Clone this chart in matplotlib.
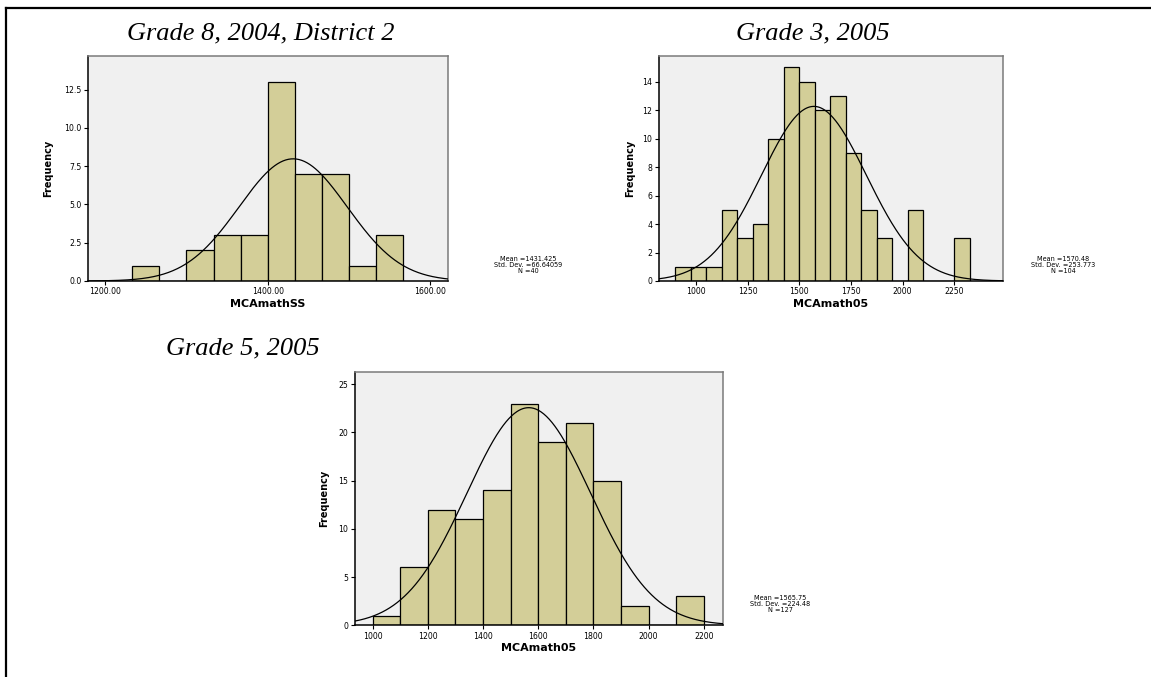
import matplotlib
matplotlib.use("Agg")
import matplotlib.pyplot as plt
from matplotlib.lines import Line2D
import numpy as np

W, H = 1151, 677

# --- data ---
titles = ["Grade 8, 2004, District 2", "Grade 3, 2005", "Grade 5, 2005"]
xlabels = ["MCAmathSS", "MCAmath05", "MCAmath05"]

g8_start, g8_width = 1200 + 100 / 3, 100 / 3
g8_counts = [1, 0, 2, 3, 3, 13, 7, 7, 1, 3]
g8_stats = (1431.425, 66.64059, 40, "1431.425", "66.64059")

g3_start, g3_width = 900, 75
g3_counts = [1, 1, 1, 5, 3, 4, 10, 15, 14, 12, 13, 9, 5, 3, 0, 5, 0, 0, 3]
g3_stats = (1570.48, 253.773, 104, "1570.48", "253.773")

g5_start, g5_width = 1000, 100
g5_counts = [1, 6, 12, 11, 14, 23, 19, 21, 15, 2, 0, 3]
g5_stats = (1565.75, 224.48, 127, "1565.75", "224.48")

g8_xticks = [1200, 1400, 1600]
g8_yticks = [0, 2.5, 5, 7.5, 10, 12.5]
g3_xticks = [1000, 1250, 1500, 1750, 2000, 2250]
g3_yticks = [0, 2, 4, 6, 8, 10, 12, 14]
g5_xticks = [1000, 1200, 1400, 1600, 1800, 2000, 2200]
g5_yticks = [0, 5, 10, 15, 20, 25]

BAR = "#d3ce98"
BG = "#f0f0f0"
NARROW = ["Liberation Sans Narrow", "DejaVu Sans Condensed", "DejaVu Sans"]

fig = plt.figure(figsize=(W / 100, H / 100), dpi=100)
fig.patch.set_facecolor("white")


def px_box(l, r, t, b):
    return [l / W, 1 - b / H, (r - l) / W, (b - t) / H]


def histo(box, start, width, counts, stats, xlim, ylim, xt, yt, xfmt, yfmt,
          title, title_xy, xlabel, freq_x, stats_xy):
    ax = fig.add_axes(px_box(*box))
    ax.set_facecolor(BG)
    lefts = start + width * np.arange(len(counts))
    ax.bar(lefts, counts, width=width, align="edge", color=BAR,
           edgecolor="black", linewidth=0.9, zorder=2)
    mean, sd, n, ms, ss = stats
    xs = np.linspace(xlim[0], xlim[1], 400)
    ys = n * width / (sd * np.sqrt(2 * np.pi)) * np.exp(-0.5 * ((xs - mean) / sd) ** 2)
    ax.plot(xs, ys, color="black", lw=0.9, zorder=3)
    ax.set_xlim(*xlim)
    ax.set_ylim(*ylim)
    ax.set_xticks(xt)
    ax.set_xticklabels([xfmt % v for v in xt])
    ax.set_yticks(yt)
    ax.set_yticklabels([yfmt % v for v in yt])
    ax.tick_params(labelsize=5.6, length=3, width=0.8, pad=1.5)
    for s in ["left", "bottom"]:
        ax.spines[s].set_color("black")
        ax.spines[s].set_linewidth(1.1)
    for s in ["top", "right"]:
        ax.spines[s].set_color("#7a7a7a")
        ax.spines[s].set_linewidth(1.1)
    ax.set_xlabel(xlabel, fontsize=8, fontweight="bold", labelpad=2)
    fig.text(title_xy[0] / W, 1 - title_xy[1] / H, title, ha="center", va="center",
             fontsize=19, style="italic", family="Liberation Serif")
    fig.text(freq_x / W, 1 - (box[2] + box[3]) / 2 / H, "Frequency", rotation=90,
             ha="center", va="center", fontsize=7, fontweight="bold",
             family=NARROW)
    fig.text(stats_xy[0] / W, 1 - stats_xy[1] / H,
             "Mean =%s\nStd. Dev. =%s\nN =%d" % (ms, ss, n),
             ha="center", va="center", fontsize=4.7, linespacing=1.05)
    return ax


histo((88, 448, 56, 281), g8_start, g8_width, g8_counts, g8_stats,
      (1178.7, 1622.2), (0, 14.7), g8_xticks, g8_yticks, "%.2f", "%.1f",
      titles[0], (261, 33), xlabels[0], 48.5, (528, 265))
histo((658.7, 1003, 56, 281), g3_start, g3_width, g3_counts, g3_stats,
      (819.5, 2485.7), (0, 15.8), g3_xticks, g3_yticks, "%d", "%d",
      titles[1], (813, 33), xlabels[1], 630, (1063, 265))
histo((354.7, 722.7, 371.7, 625.3), g5_start, g5_width, g5_counts, g5_stats,
      (934.7, 2268.9), (0, 26.3), g5_xticks, g5_yticks, "%d", "%d",
      titles[2], (243, 348), xlabels[2], 324, (780, 604))

# outer frame (only top and left edges are inside the picture)
fig.add_artist(Line2D([5.7 / W, 1], [1 - 7.5 / H, 1 - 7.5 / H],
                      transform=fig.transFigure, color="black", lw=1.6))
fig.add_artist(Line2D([5.7 / W, 5.7 / W], [0, 1 - 7.5 / H],
                      transform=fig.transFigure, color="black", lw=1.6))

fig.savefig("out.png", dpi=100)
